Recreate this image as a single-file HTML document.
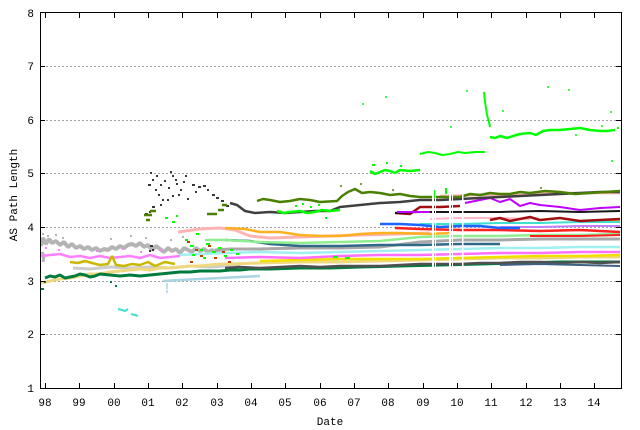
<!DOCTYPE html>
<html><head><meta charset="utf-8"><style>
html,body{margin:0;padding:0;background:#fff;}
svg{display:block;}
text{font-family:"Liberation Mono","DejaVu Sans Mono",monospace;font-size:11px;fill:#000;}
</style></head><body>
<svg width="640" height="430" viewBox="0 0 640 430" xmlns="http://www.w3.org/2000/svg">
<defs><clipPath id="c"><rect x="41" y="13" width="580" height="375"/></clipPath></defs>
<rect width="640" height="430" fill="#fff"/>
<!-- grid -->
<g stroke="#a0a0a0" stroke-width="1" stroke-dasharray="2,2">
<line x1="46" y1="334.5" x2="616" y2="334.5"/>
<line x1="46" y1="281.5" x2="616" y2="281.5"/>
<line x1="46" y1="227.5" x2="616" y2="227.5"/>
<line x1="46" y1="173.5" x2="616" y2="173.5"/>
<line x1="46" y1="120.5" x2="616" y2="120.5"/>
<line x1="46" y1="66.5" x2="616" y2="66.5"/>
</g>
<g clip-path="url(#c)" fill="none" stroke-linejoin="bevel">
<!-- early series -->
<polyline stroke="#b4b4b4" stroke-width="4" points="41,246 43,238 46,244 49,239 52,243 56,241 60,245 64,242 68,247 72,244 76,248 80,246 84,249 88,247 92,250 96,248 100,251 104,249 108,250 112,247 116,249 120,246 124,248 128,245 132,244 136,246 140,243 144,247 148,245 152,250 156,246 160,249 164,252 168,248 172,251 176,249 180,253 184,248 188,250 192,252 196,248 200,251 204,249 208,252 212,250 216,253 220,249 225,251"/>
<polyline stroke="#b4b4b4" stroke-width="3" points="42,252 44,256 43,262"/>
<path stroke="#b4b4b4" stroke-width="2" d="M42,234h2M47,236h2M55,235h2M62,238h2M110,239h2M130,236h2M145,238h2M170,240h2M182,237h2"/>
<polyline stroke="#cccccc" stroke-width="3" points="73,268 90,269 110,267 130,268 150,267 170,268 190,266 210,267 240,265"/>
<polyline stroke="#ff80ff" stroke-width="2.5" points="41,256 50,255 60,254 70,257 80,256 90,258 100,256 110,258 120,257 130,256 140,258 150,255 160,258 170,257 180,256"/>
<path stroke="#ff80ff" stroke-width="2" d="M45,248h2M58,250h2M96,251h2M122,249h2M140,252h2M160,250h2"/>
<polyline stroke="#c8b800" stroke-width="2.5" points="70,262 78,263 85,261 92,263 100,265 108,264 112,256 116,265 124,266 132,264 140,265 148,262 155,266 165,262 175,264"/>
<polyline stroke="#f0d880" stroke-width="3" points="41,283 50,281 60,279 70,278 80,276 90,274 100,274 110,272 120,271 130,270 140,269 150,270 160,268 170,268 180,267 190,266 200,266 210,265 220,264 230,264 260,263 300,262 340,262 380,261 420,260 460,259 500,258 540,258 580,257 620,257"/>
<polyline stroke="#007a3d" stroke-width="3" points="45,278 50,276 55,277 60,275 65,278 70,277 75,276 80,274 85,275 90,277 95,276 100,274 110,275 120,276 130,275 140,276 150,275 160,274 170,273 180,272 190,272 200,271 210,271 220,271 230,270 240,270 250,269 270,269 300,268 330,268 360,267 400,266 440,265 480,264 520,263 560,262 600,262 620,262"/>
<path stroke="#007a3d" stroke-width="2" d="M41,289h3M44,282h2M110,282h2M115,286h2"/>
<polyline stroke="#a8d4e4" stroke-width="2.5" points="163,281 180,280 200,279 220,278 240,277 260,276"/>
<path stroke="#a8d4e4" stroke-width="1.5" d="M167,283v6M167,290v3"/>
<polyline stroke="#40e0d0" stroke-width="2" points="118,309 122,310 125,311 128,309"/>
<polyline stroke="#40e0d0" stroke-width="2" points="131,314 135,315 138,316"/>
<!-- band 2003+ -->
<polyline stroke="#505050" stroke-width="2.5" points="225,268 240,267 260,268 280,267 300,266 320,267 340,266 360,266 380,266 400,265 420,264 440,264 460,264 480,263 500,263 520,262 540,262 560,263 580,262 600,263 620,262"/>
<polyline stroke="#406080" stroke-width="2" points="500,265 540,264 580,265 620,266"/>
<polyline stroke="#f0e000" stroke-width="2.5" points="260,261 300,260 340,259 380,259 420,259 460,258 500,257 540,256 580,256 620,255"/>
<polyline stroke="#ff70ff" stroke-width="2.5" points="225,258 260,257 300,258 340,256 380,255 420,255 460,254 500,253 540,253 580,252 620,252"/>
<polyline stroke="#a0f0f0" stroke-width="2.5" points="180,255 200,254 225,253 260,252 300,253 340,252 380,251 420,250 460,249 500,248 540,248 580,247 620,247"/>
<polyline stroke="#a8a8a8" stroke-width="3" points="215,250 230,249 260,249 300,248 340,248 380,247 420,242 460,240 500,240 540,239 580,239 620,239"/>
<polyline stroke="#306888" stroke-width="2.5" points="225,240 250,241 270,244 300,246 340,246 380,245 420,245 460,244 500,244"/>
<polyline stroke="#90ee90" stroke-width="2.5" points="205,240 225,240 260,242 300,243 340,242 380,241 420,237 460,236 500,236 540,235 580,235 620,234"/>
<polyline stroke="#ffb4b4" stroke-width="3" points="178,232 200,229 220,228 235,230 250,236 270,238 300,237 330,236 360,235 400,234 430,233"/>
<polyline stroke="#ffb020" stroke-width="2.5" points="225,228 245,229 260,232 280,232 300,235 320,236 340,236 360,234 380,233 400,233 430,234 450,233"/>
<polyline stroke="#ffb020" stroke-width="2" points="598,222 620,221"/>
<polyline stroke="#ff2020" stroke-width="2.5" points="395,228 420,229 460,230 500,230 540,231 580,230 620,232"/>
<polyline stroke="#ff2020" stroke-width="2" points="530,236 580,236 620,235"/>
<polyline stroke="#c080ff" stroke-width="2" points="500,227 540,227 580,226 620,226"/>
<polyline stroke="#40e0d0" stroke-width="2" points="420,224 460,224 500,223 540,223 580,222 620,222"/>
<polyline stroke="#1e64ff" stroke-width="2.5" points="380,224 400,224 420,225 440,227 460,226 480,226 500,228 520,228"/>
<polyline stroke="#ffb8c8" stroke-width="2" points="430,219 460,218 500,218 530,219"/>
<polyline stroke="#a01010" stroke-width="2.5" points="395,213 410,214 420,207 440,207 460,206"/>
<polyline stroke="#a01010" stroke-width="2.5" points="490,220 500,218 510,221 520,219 530,217 540,220 560,218 580,221 600,220 620,219"/>
<polyline stroke="#181818" stroke-width="2" points="395,213 420,212 460,212 500,212 540,211 580,212 620,211"/>
<polyline stroke="#c000ff" stroke-width="2" points="397,212 430,212"/>
<polyline stroke="#c000ff" stroke-width="2" points="465,203 480,200 490,198 500,202 510,199 520,206 530,203 540,205 560,207 580,210 600,208 620,207"/>
<polyline stroke="#ffb0b0" stroke-width="2.5" points="440,196 480,195 520,195 560,193 600,193 620,193"/>
<polyline stroke="#404040" stroke-width="2.5" points="230,203 237,205 245,211 255,213 270,212 285,213 300,212 315,211 330,211 340,207 350,206 360,205 370,204 380,203 400,202 420,200 440,200 460,199 480,198 500,197 520,196 540,195 560,194 580,193 600,192 620,192"/>
<polyline stroke="#4a8000" stroke-width="2.5" points="257,201 263,199 270,200 280,202 290,201 300,199 310,200 320,202 337,201 342,196 348,192 355,189 362,193 370,192 380,193 390,195 400,194 410,196 420,197 440,197 460,197 470,194 480,195 490,193 500,194 510,194 520,192 530,193 545,191 560,192 575,194 590,193 605,192 620,191"/>
<path stroke="#4a8000" stroke-width="1.5" d="M340,186h2M360,184h2M392,190h2M540,188h2"/>
<!-- bright green -->
<polyline stroke="#00ff00" stroke-width="2.5" points="277,211 284,213 290,212 300,211 307,213 315,212 322,210 330,211 340,210"/>
<path stroke="#00ff00" stroke-width="2" d="M295,206h2M302,204h2M310,207h2M318,205h2M325,218h2"/>
<polyline stroke="#00ff00" stroke-width="2.5" points="370,171 375,174 380,172 385,170 390,171 395,173 400,170 410,171 420,170"/>
<path stroke="#00ff00" stroke-width="2" d="M372,165h3M386,163h2M400,166h2"/>
<polyline stroke="#00ff00" stroke-width="2" points="420,154 428,152 435,153 442,155 450,154 458,152 465,153 475,152 485,152"/>
<polyline stroke="#00ff00" stroke-width="2" points="484,92 485,102 486,108 487,115 489,122 490,127"/>
<polyline stroke="#00ff00" stroke-width="2.5" points="490,137 495,138 500,136 507,138 513,136 520,134 530,133 536,135 543,131 550,130 560,130 570,129 580,128 590,130 600,131 607,131 615,130"/>
<path stroke="#00ff00" stroke-width="1.5" d="M466,91h2M502,111h2M547,87h2M568,90h2M610,112h2M611,161h2M450,127h2M385,97h2M362,104h2M601,126h2M575,135h2"/>
<path stroke="#00ff00" stroke-width="2" d="M165,218h3M172,222h3M176,216h2M185,240h3M190,246h4M196,234h3M200,250h3M206,244h4M212,252h4M218,248h3M224,256h3M230,250h3M236,254h3M192,255h3M203,258h3M617,128h2M333,257h5M345,258h5M434,190v8M446,188v6"/>
<!-- dark gray scatter 01-03 -->
<path stroke="#383838" stroke-width="2" d="M150,173h2M152,180h2M148,185h3M160,185h2M155,190h2M158,195h2M162,200h2M152,207h3M149,212h2M170,172h2M172,176h2M175,180h2M180,190h2M172,196h2M185,176h2M192,185h3M198,187h3M203,186h3M207,190h2M212,195h3M216,198h3M221,201h3M168,188h2M176,184h2M145,214h3M160,205h2M167,200h2M150,246h3M152,250h2M149,251h2M178,195h2M183,182h2M156,176h2M164,181h2M187,199h2M195,192h2M226,206h3"/>
<path stroke="#4a8000" stroke-width="2.5" d="M144,215h8M150,211h6M146,220h4M207,214h10M218,210h6M222,205h5"/>
<path stroke="#c04000" stroke-width="2" d="M187,242h3M195,250h3M200,256h3M208,246h3M214,258h3M222,252h3M228,262h3M190,262h3"/>
</g>
<!-- white gaps -->
<g fill="#fff">
<rect x="432" y="188" width="2" height="80"/>
<rect x="435" y="188" width="1" height="80"/>
<rect x="449" y="188" width="2" height="80"/>
<rect x="452" y="188" width="1" height="80"/>
<rect x="462" y="188" width="1.5" height="80"/>
</g>
<!-- frame -->
<rect x="40.5" y="12.5" width="581" height="376" fill="none" stroke="#000" stroke-width="1"/>
<g stroke="#000" stroke-width="1">
<path d="M40,334.5h5M40,281.5h5M40,227.5h5M40,173.5h5M40,120.5h5M40,66.5h5M616,334.5h5M616,281.5h5M616,227.5h5M616,173.5h5M616,120.5h5M616,66.5h5"/>
<path d="M45.5,388v-5M79.5,388v-5M114.5,388v-5M148.5,388v-5M182.5,388v-5M217.5,388v-5M251.5,388v-5M285.5,388v-5M320.5,388v-5M354.5,388v-5M388.5,388v-5M423.5,388v-5M457.5,388v-5M491.5,388v-5M526.5,388v-5M560.5,388v-5M594.5,388v-5"/>
<path d="M45.5,13v5M79.5,13v5M114.5,13v5M148.5,13v5M182.5,13v5M217.5,13v5M251.5,13v5M285.5,13v5M320.5,13v5M354.5,13v5M388.5,13v5M423.5,13v5M457.5,13v5M491.5,13v5M526.5,13v5M560.5,13v5M594.5,13v5"/>
</g>
<!-- y labels -->
<g text-anchor="end">
<text x="34" y="392">1</text>
<text x="34" y="338">2</text>
<text x="34" y="285">3</text>
<text x="34" y="231">4</text>
<text x="34" y="177">5</text>
<text x="34" y="124">6</text>
<text x="34" y="70">7</text>
<text x="34" y="17">8</text>
</g>
<!-- x labels -->
<g text-anchor="middle">
<text x="45" y="406">98</text>
<text x="79" y="406">99</text>
<text x="114" y="406">00</text>
<text x="148" y="406">01</text>
<text x="182" y="406">02</text>
<text x="217" y="406">03</text>
<text x="251" y="406">04</text>
<text x="285" y="406">05</text>
<text x="320" y="406">06</text>
<text x="354" y="406">07</text>
<text x="388" y="406">08</text>
<text x="423" y="406">09</text>
<text x="457" y="406">10</text>
<text x="491" y="406">11</text>
<text x="526" y="406">12</text>
<text x="560" y="406">13</text>
<text x="594" y="406">14</text>
<text x="330" y="425">Date</text>
<text transform="translate(17,195) rotate(-90)">AS Path Length</text>
</g>
</svg>
</body></html>
